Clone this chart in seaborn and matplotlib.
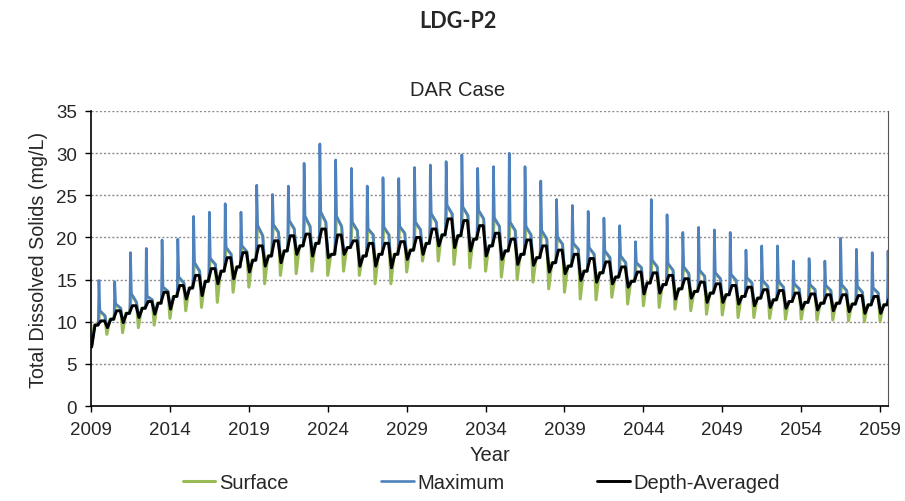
import numpy as np
import pandas as pd
import matplotlib
matplotlib.use("Agg")
import matplotlib.pyplot as plt
import seaborn as sns

# one entry per year, cycle starts at the winter low
years = list(range(2009, 2060))

# Maximum: spring spike, level just after spike, level late in year
max_peak = [14.9, 14.75, 18.2, 18.7, 19.7, 19.8, 22.5, 23.0, 24.0, 23.0,
            26.2, 25.1, 26.1, 28.8, 31.1, 29.2, 28.2, 26.1, 27.1, 27.0,
            28.3, 28.6, 29.0, 29.8, 28.2, 28.4, 30.0, 28.4, 26.7, 24.5,
            23.8, 23.1, 22.3, 21.4, 19.5, 24.5, 22.7, 20.6, 21.2, 20.9,
            20.6, 18.5, 19.0, 19.0, 17.2, 17.5, 17.2, 19.9, 18.6, 18.2,
            18.4]
max_plateau = [11.3, 12.1, 13.3, 13.0, 14.1, 15.3, 17.0, 17.5, 18.8, 19.0,
               21.4, 21.5, 22.0, 22.5, 23.0, 22.5, 21.8, 21.0, 21.2, 21.3,
               21.8, 22.8, 23.8, 23.6, 23.2, 22.3, 21.8, 21.3, 20.8, 20.0,
               19.3, 18.8, 18.4, 17.8, 17.0, 17.3, 16.9, 16.5, 16.1, 15.8,
               15.6, 15.2, 14.9, 14.8, 14.5, 14.4, 14.3, 14.4, 14.2, 14.0,
               14.0]
max_late = [10.7, 11.6, 12.3, 12.6, 13.6, 14.6, 16.0, 16.8, 18.0, 18.3,
            20.2, 20.6, 21.0, 21.3, 21.8, 21.3, 20.8, 20.3, 20.3, 20.5,
            20.9, 21.8, 22.8, 22.6, 22.2, 21.3, 20.8, 20.3, 19.8, 19.2,
            18.6, 18.0, 17.6, 17.0, 16.4, 16.5, 16.1, 15.7, 15.4, 15.1,
            14.9, 14.6, 14.2, 14.1, 13.9, 13.8, 13.7, 13.7, 13.5, 13.4,
            13.4]

# Surface: winter trough
surf_dip = [7.0, 8.5, 8.7, 9.3, 9.6, 10.4, 11.3, 11.7, 12.3, 13.5,
            14.1, 14.5, 15.5, 15.7, 16.0, 15.5, 16.0, 15.5, 14.5, 14.5,
            15.9, 17.2, 17.2, 16.8, 16.4, 16.0, 15.3, 15.0, 14.7, 13.9,
            13.5, 12.7, 12.6, 12.9, 12.1, 11.9, 11.7, 11.5, 11.3, 10.9,
            10.8, 10.5, 10.5, 10.4, 10.3, 10.3, 10.2, 10.2, 10.1, 10.0,
            10.0]

# Depth-Averaged: winter low, spring level, summer high
avg_low = [7.0, 9.3, 9.9, 10.5, 10.9, 11.5, 12.7, 13.1, 14.5, 15.1,
           15.9, 16.6, 17.0, 18.0, 17.8, 17.6, 18.0, 16.6, 16.6, 16.4,
           17.4, 18.0, 19.0, 18.8, 18.4, 17.8, 17.4, 16.8, 16.7, 15.9,
           15.7, 14.9, 14.7, 14.5, 14.1, 13.3, 13.4, 12.7, 12.8, 12.3,
           12.3, 12.1, 11.9, 11.7, 11.6, 11.5, 11.4, 11.3, 11.2, 11.0,
           11.0]
avg_mid = [9.6, 10.3, 11.0, 11.6, 12.2, 13.0, 14.0, 14.8, 16.0, 16.5,
           17.3, 17.8, 18.4, 19.0, 19.3, 18.0, 18.8, 17.8, 18.0, 18.0,
           18.5, 19.3, 20.3, 20.2, 19.8, 19.0, 18.4, 18.0, 17.6, 17.0,
           16.6, 16.0, 15.8, 15.3, 14.8, 14.6, 14.4, 13.9, 13.6, 13.4,
           13.2, 13.0, 12.8, 12.6, 12.4, 12.3, 12.2, 12.2, 12.1, 12.0,
           12.0]
avg_high = [10.1, 11.3, 11.9, 12.4, 13.5, 14.3, 15.5, 16.3, 17.6, 18.2,
            19.0, 19.6, 20.2, 20.4, 21.0, 20.3, 19.6, 19.3, 19.3, 19.5,
            20.0, 21.0, 22.2, 22.0, 21.4, 20.5, 19.8, 19.7, 19.0, 18.5,
            18.0, 17.5, 17.1, 16.5, 15.9, 15.8, 15.5, 15.1, 14.7, 14.5,
            14.3, 14.1, 13.8, 13.7, 13.4, 13.3, 13.2, 13.2, 13.1, 13.0,
            13.0]

# where in the year each stored value sits
surf_pos = [0.0, 0.2, 0.45, 0.55, 0.88]
max_pos = [0.03, 0.25, 0.46, 0.5, 0.56, 0.88]
avg_pos = [0.04, 0.25, 0.42, 0.62, 0.85]


def build(pos, cols):
    xs, ys = [], []
    for i, yr in enumerate(years):
        for p, col in zip(pos, cols):
            xs.append(yr + p)
            ys.append(col[i])
    return pd.DataFrame({"Year": xs, "TDS": ys})


surface = build(surf_pos, [surf_dip, avg_mid, avg_mid, max_plateau, max_late])
maximum = build(max_pos, [avg_low, avg_mid, avg_mid, max_peak, max_plateau, max_late])
depth = build(avg_pos, [avg_low, avg_mid, avg_mid, avg_high, avg_high])

sns.set_style("white")
plt.rcParams["font.family"] = ["Liberation Sans", "DejaVu Sans"]

fig = plt.figure(figsize=(9.05, 5.02), dpi=100)
ax = fig.add_axes([0.1006, 0.1892, 0.8806, 0.5877])

sns.lineplot(data=surface, x="Year", y="TDS", sort=False, estimator=None,
             color="#9BBB59", linewidth=2.2, label="Surface", ax=ax)
sns.lineplot(data=maximum, x="Year", y="TDS", sort=False, estimator=None,
             color="#4F81BD", linewidth=1.9, label="Maximum", ax=ax)
sns.lineplot(data=depth, x="Year", y="TDS", sort=False, estimator=None,
             color="black", linewidth=2.1, label="Depth-Averaged", ax=ax)

ax.set_xlim(2009, 2059.5)
ax.set_ylim(0, 35)
ax.set_xticks(range(2009, 2060, 5))
ax.set_yticks(range(0, 36, 5))
ax.yaxis.grid(True, linestyle=(0, (1.5, 1.5)), color="#8c8c8c", linewidth=1.0)
ax.xaxis.grid(False)
ax.tick_params(axis="both", direction="out", length=4, width=1, color="black",
               labelsize=13.5, left=True, bottom=True)
ax.tick_params(axis="x", pad=7)
ax.tick_params(axis="y", pad=6)
for side in ["left", "bottom"]:
    ax.spines[side].set_color("black")
    ax.spines[side].set_linewidth(1.2)
ax.spines["right"].set_color("#555555")
ax.spines["top"].set_visible(False)

ax.set_xlabel("Year", fontsize=14.5, labelpad=5)
ax.set_ylabel("Total Dissolved Solids (mg/L)", fontsize=14.2, labelpad=6)
fig.text(458 / 905, 1 - 90 / 502, "DAR Case", fontsize=14.5, ha="center", va="center")
fig.text(458 / 905, 1 - 22 / 502, "LDG-P2", fontsize=15.5, fontweight="bold",
         family=["Lato", "DejaVu Sans"], ha="center", va="center")

ax.legend(loc="center", bbox_to_anchor=(0.49, -0.258), ncol=3, frameon=False,
          fontsize=14.5, handlelength=1.6, handletextpad=0.2, columnspacing=4.6)

plt.savefig("out.png", dpi=100)
plt.close()
